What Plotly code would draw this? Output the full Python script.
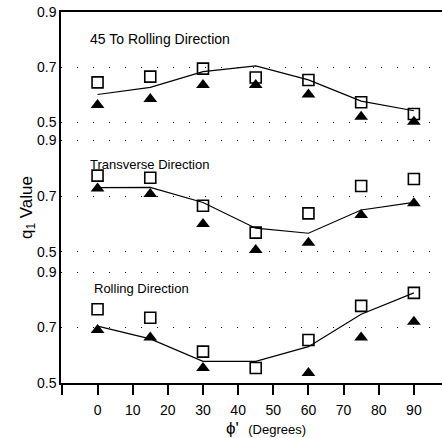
import plotly.graph_objects as go
from plotly.subplots import make_subplots

phi = [0, 15, 30, 45, 60, 75, 90]
x_ticks = [0, 10, 20, 30, 40, 50, 60, 70, 80, 90]
y_ticks = [0.5, 0.7, 0.9]

panel_titles = ["45 To Rolling Direction", "Transverse Direction", "Rolling Direction"]

# 45 to rolling direction
sq_45 = [0.644, 0.665, 0.694, 0.662, 0.653, 0.572, 0.529]
tri_45 = [0.562, 0.584, 0.635, 0.635, 0.600, 0.519, 0.501]
line_45 = [0.600, 0.626, 0.683, 0.704, 0.653, 0.576, 0.541]

# transverse direction
sq_td = [0.773, 0.765, 0.665, 0.569, 0.638, 0.736, 0.761]
tri_td = [0.727, 0.707, 0.600, 0.507, 0.533, 0.632, 0.674]
line_td = [0.730, 0.731, 0.677, 0.585, 0.567, 0.650, 0.677]

# rolling direction
sq_rd = [0.766, 0.735, 0.613, 0.554, 0.655, 0.778, 0.825]
tri_rd = [0.691, 0.664, 0.554, None, 0.536, 0.664, 0.721]
line_rd = [0.705, 0.659, 0.578, 0.578, 0.631, 0.748, 0.825]

panels = [(sq_45, tri_45, line_45), (sq_td, tri_td, line_td), (sq_rd, tri_rd, line_rd)]

fig = make_subplots(rows=3, cols=1, shared_xaxes=True, vertical_spacing=0)

for i, (sq, tri, ln) in enumerate(panels, start=1):
    fig.add_trace(go.Scatter(x=phi, y=ln, mode="lines",
                             line=dict(color="black", width=1.2),
                             showlegend=False), row=i, col=1)
    fig.add_trace(go.Scatter(x=phi, y=tri, mode="markers",
                             marker=dict(symbol="triangle-up", size=12, color="black"),
                             showlegend=False), row=i, col=1)
    fig.add_trace(go.Scatter(x=phi, y=sq, mode="markers",
                             marker=dict(symbol="square-open", size=11, color="black",
                                         line=dict(width=1.6, color="black")),
                             showlegend=False), row=i, col=1)

font = "Liberation Sans, Arial, sans-serif"
domains = [[0.679, 1.0], [0.326, 0.679], [0.0, 0.326]]
ranges = [[0.467, 0.9], [0.464, 0.932], [0.5, 0.936]]

for i in range(3):
    yname = "yaxis" if i == 0 else f"yaxis{i+1}"
    fig.layout[yname].update(
        domain=domains[i], range=ranges[i], tickvals=y_ticks,
        ticktext=[f"{v:.1f}" for v in y_ticks],
        showline=True, linecolor="black", linewidth=1.5,
        ticks="", showgrid=True, gridcolor="black", gridwidth=1,
        griddash="1px,15px", zeroline=False,
        tickfont=dict(size=14, color="black", family=font),
    )

common_x = dict(range=[-10.4, 98], zeroline=False, showgrid=False)
fig.layout.xaxis.update(**common_x, side="top", showline=True, linecolor="black",
                        linewidth=1.5, ticks="", showticklabels=False)
fig.layout.xaxis2.update(**common_x, showline=False, ticks="", showticklabels=False)
fig.layout.xaxis3.update(**common_x, showline=True, linecolor="black", linewidth=1.5,
                         ticks="outside", ticklen=10, tickwidth=1.5, tickcolor="black",
                         tickvals=[-10] + x_ticks, ticktext=[""] + [str(v) for v in x_ticks],
                         showticklabels=True, ticklabelstandoff=3,
                         tickfont=dict(size=14, color="black", family=font))

ann_pos = [(0.071, 0.927), (0.071, 0.590), (0.081, 0.256)]
ann_sizes = [14, 13, 13]
annotations = []
for t, (ax, ay), fs in zip(panel_titles, ann_pos, ann_sizes):
    annotations.append(dict(text=t, x=ax, y=ay, xref="paper", yref="paper",
                            xanchor="left", yanchor="middle", showarrow=False,
                            font=dict(size=fs, color="black", family=font)))
annotations.append(dict(text="q<sub>1</sub> Value", x=-0.121, y=0.474, xref="paper",
                        yref="paper", textangle=-90, showarrow=False,
                        font=dict(size=17, color="black", family=font)))
annotations.append(dict(text="ϕ'  <span style='font-size:13px'>(Degrees)</span>",
                        x=0.538, y=-0.122, xref="paper", yref="paper",
                        showarrow=False, yanchor="middle",
                        font=dict(size=17, color="black", family=font)))

fig.update_layout(width=442, height=438, margin=dict(l=61, r=0, t=12, b=55),
                  plot_bgcolor="white", paper_bgcolor="white",
                  annotations=annotations)

fig.write_html("out.html", config={"displayModeBar": False},
               post_script="document.body.style.margin='0';document.body.style.padding='0';document.body.style.overflow='hidden';")
